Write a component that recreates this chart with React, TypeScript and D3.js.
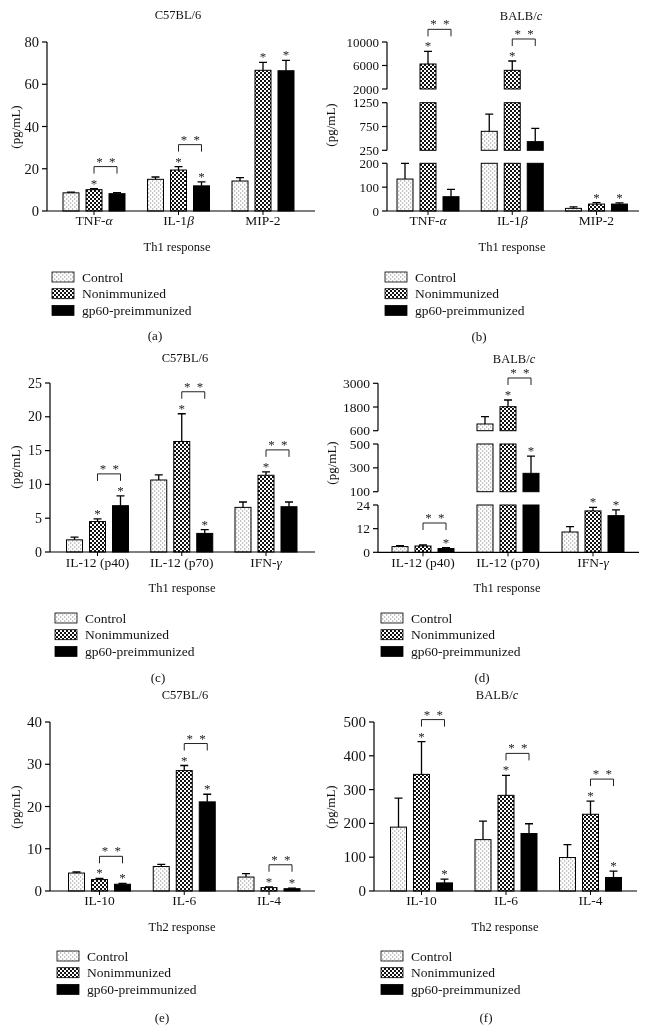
import React from "react";
import * as d3 from "d3";

const SERIES = ["Control", "Nonimmunized", "gp60-preimmunized"];

// Panel (a) C57BL/6 Th1
const A_CATS = ["TNF-α", "IL-1β", "MIP-2"];
const A_MEAN = [[8.6, 15.0, 14.2], [10.1, 19.4, 66.6], [8.2, 11.9, 66.4]];
const A_ERR = [[0.3, 1.1, 1.6], [0.5, 1.6, 3.8], [0.5, 1.9, 4.9]];
const A_STAR = [[0, 0, 0], [1, 1, 1], [0, 1, 1]];
const A_BRACKET = [1, 1, 0];
const A_TICKS = [[0, 20, 40, 60, 80]];

// Panel (b) BALB/c Th1
const B_CATS = ["TNF-α", "IL-1β", "MIP-2"];
const B_MEAN = [[134, 649, 11], [6255, 5177, 29], [60, 432, 29]];
const B_ERR = [[66, 363, 6], [2156, 1589, 6], [31, 279, 5]];
const B_STAR = [[0, 0, 0], [1, 1, 1], [0, 0, 1]];
const B_BRACKET = [1, 1, 0];
const B_TICKS = [[0, 100, 200], [250, 750, 1250], [2000, 6000, 10000]];

// Panel (c) C57BL/6 Th1
const C_CATS = ["IL-12 (p40)", "IL-12 (p70)", "IFN-γ"];
const C_MEAN = [[1.8, 10.65, 6.6], [4.5, 16.35, 11.35], [6.85, 2.75, 6.7]];
const C_ERR = [[0.4, 0.75, 0.8], [0.4, 4.1, 0.5], [1.45, 0.55, 0.7]];
const C_STAR = [[0, 0, 0], [1, 1, 1], [1, 1, 0]];
const C_BRACKET = [1, 1, 1];
const C_TICKS = [[0, 5, 10, 15, 20, 25]];

// Panel (d) BALB/c Th1
const D_CATS = ["IL-12 (p40)", "IL-12 (p70)", "IFN-γ"];
const D_MEAN = [[2.9, 940, 10.3], [3.2, 1817, 21], [1.9, 254, 18.6]];
const D_ERR = [[0.5, 370, 2.7], [0.5, 338, 1.8], [0.5, 145, 2.9]];
const D_STAR = [[0, 0, 0], [0, 1, 1], [1, 1, 1]];
const D_BRACKET = [1, 1, 0];
const D_TICKS = [[0, 12, 24], [100, 300, 500], [600, 1800, 3000]];

// Panel (e) C57BL/6 Th2
const E_CATS = ["IL-10", "IL-6", "IL-4"];
const E_MEAN = [[4.25, 5.8, 3.3], [2.7, 28.5, 0.8], [1.6, 21.1, 0.55]];
const E_ERR = [[0.25, 0.5, 0.8], [0.3, 1.2, 0.2], [0.2, 1.8, 0.15]];
const E_STAR = [[0, 0, 0], [1, 1, 1], [1, 1, 1]];
const E_BRACKET = [1, 1, 1];
const E_TICKS = [[0, 10, 20, 30, 40]];

// Panel (f) BALB/c Th2
const F_CATS = ["IL-10", "IL-6", "IL-4"];
const F_MEAN = [[189, 152, 99], [345, 283, 227], [24, 170, 40]];
const F_ERR = [[86, 55, 38], [97, 59, 39], [11, 29, 19]];
const F_STAR = [[0, 0, 0], [1, 1, 1], [1, 0, 1]];
const F_BRACKET = [1, 1, 1];
const F_TICKS = [[0, 100, 200, 300, 400, 500]];

const FONT = "'Liberation Serif', 'Times New Roman', serif";

const PANELS = [
  {
    id: "a", title: "C57BL/6", resp: "Th1 response", cats: A_CATS, mean: A_MEAN, err: A_ERR, star: A_STAR, bracket: A_BRACKET, ticks: A_TICKS,
    L: { axisX: 47, xEnd: 315, c0: 94, c2: 263, px: [[211, 42]], tickFs: 14.5, titleX: 178, titleY: 15, catY: 220, ylabX: 15, ylabY: 127, respX: 177, respY: 247, legX: 52, legY: 277, letterX: 155, letterY: 335 },
  },
  {
    id: "b", title: "BALB/c", resp: "Th1 response", cats: B_CATS, mean: B_MEAN, err: B_ERR, star: B_STAR, bracket: B_BRACKET, ticks: B_TICKS,
    L: { axisX: 387, xEnd: 639, c0: 428, c2: 596.5, px: [[211, 163.3], [150.3, 102.7], [89, 42]], tickFs: 13, titleX: 521, titleY: 16, catY: 220, ylabX: 330, ylabY: 125, respX: 512, respY: 247, legX: 385, legY: 277, letterX: 479, letterY: 336 },
  },
  {
    id: "c", title: "C57BL/6", resp: "Th1 response", cats: C_CATS, mean: C_MEAN, err: C_ERR, star: C_STAR, bracket: C_BRACKET, ticks: C_TICKS,
    L: { axisX: 50, xEnd: 315, c0: 97.5, c2: 266, px: [[552, 383]], tickFs: 14, titleX: 185, titleY: 358, catY: 562, ylabX: 15, ylabY: 467, respX: 182, respY: 588, legX: 55, legY: 618, letterX: 158, letterY: 677 },
  },
  {
    id: "d", title: "BALB/c", resp: "Th1 response", cats: D_CATS, mean: D_MEAN, err: D_ERR, star: D_STAR, bracket: D_BRACKET, ticks: D_TICKS,
    L: { axisX: 378, xEnd: 639, c0: 423, c2: 593, px: [[552.3, 505], [491.7, 444], [430.7, 383.3]], tickFs: 13.5, titleX: 514, titleY: 359, catY: 562, ylabX: 331, ylabY: 463, respX: 507, respY: 588, legX: 381, legY: 618, letterX: 482, letterY: 677 },
  },
  {
    id: "e", title: "C57BL/6", resp: "Th2 response", cats: E_CATS, mean: E_MEAN, err: E_ERR, star: E_STAR, bracket: E_BRACKET, ticks: E_TICKS,
    L: { axisX: 50, xEnd: 315, c0: 99.5, c2: 269, px: [[891, 722]], tickFs: 15, titleX: 185, titleY: 695, catY: 900, ylabX: 15, ylabY: 807, respX: 182, respY: 927, legX: 57, legY: 956, letterX: 162, letterY: 1017 },
  },
  {
    id: "f", title: "BALB/c", resp: "Th2 response", cats: F_CATS, mean: F_MEAN, err: F_ERR, star: F_STAR, bracket: F_BRACKET, ticks: F_TICKS,
    L: { axisX: 374, xEnd: 637, c0: 421.5, c2: 590.5, px: [[891, 722]], tickFs: 15, titleX: 497, titleY: 695, catY: 900, ylabX: 330, ylabY: 807, respX: 505, respY: 927, legX: 381, legY: 956, letterX: 486, letterY: 1017 },
  },
];

const FILLS = ["url(#pCtrl)", "url(#pNon)", "#000"];

function GreekLabel({ text, x, y, fs }: any) {
  const parts = text.split(/([α-ω])/).filter((p: string) => p.length);
  return (
    <text x={x} y={y} textAnchor="middle" dominantBaseline="central" fontSize={fs} fontFamily={FONT} fill="#111">
      {parts.map((p: string, i: number) =>
        /[α-ω]/.test(p) ? <tspan key={i} fontStyle="italic">{p}</tspan> : <tspan key={i}>{p}</tspan>
      )}
    </text>
  );
}

function Panel({ P }: any) {
  const L = P.L;
  const segs = P.ticks.map((t: number[], i: number) => {
    const dom = d3.extent(t) as [number, number];
    return { dom, px: L.px[i], ticks: t, scale: d3.scaleLinear().domain(dom).range(L.px[i]) };
  });
  const segOf = (v: number) => segs.find((s: any) => v <= s.dom[1]) || segs[segs.length - 1];
  const y = (v: number, ref: number) => segOf(ref).scale(v);
  const xc = d3.scalePoint<string>().domain(P.cats).range([L.c0, L.c2]);
  const off = d3.scalePoint<string>().domain(SERIES).range([-23, 23]);
  const bw = 16;
  const y0 = segs[0].px[0];

  const els: any[] = [];
  P.cats.forEach((c: string, ci: number) => {
    const tops: number[] = [];
    SERIES.forEach((s, si) => {
      const v = P.mean[si][ci];
      const e = P.err[si][ci];
      const cx = (xc(c) as number) + (off(s) as number);
      segs.forEach((sg: any, gi: number) => {
        if (v > sg.dom[0]) {
          const yt = sg.scale(Math.min(v, sg.dom[1]));
          els.push(
            <rect key={`r${ci}${si}${gi}`} x={cx - bw / 2} y={yt} width={bw} height={sg.px[0] - yt} fill={FILLS[si]} stroke="#000" strokeWidth={1} />
          );
        }
      });
      const yv = y(v, v);
      const ye = y(v + e, v);
      tops.push(ye);
      els.push(
        <path key={`e${ci}${si}`} d={`M${cx},${yv}V${ye}M${cx - 4},${ye}H${cx + 4}`} stroke="#000" strokeWidth={1.3} fill="none" />
      );
      if (P.star[si][ci]) {
        els.push(
          <text key={`s${ci}${si}`} x={cx} y={ye - 1} textAnchor="middle" fontSize={13} fontFamily={FONT} fill="#222">*</text>
        );
      }
    });
    if (P.bracket[ci]) {
      const x1 = (xc(c) as number) + (off(SERIES[1]) as number);
      const x2 = (xc(c) as number) + (off(SERIES[2]) as number);
      const by = Math.min(tops[1], tops[2]) - 22;
      els.push(
        <path key={`b${ci}`} d={`M${x1},${by + 7}V${by}H${x2}V${by + 7}`} stroke="#222" strokeWidth={1} fill="none" />
      );
      els.push(
        <text key={`bs${ci}`} x={(x1 + x2) / 2 + 1} y={by - 1} textAnchor="middle" fontSize={13} letterSpacing={1.5} fontFamily={FONT} fill="#222">* *</text>
      );
    }
  });

  return (
    <g>
      {els}
      {segs.map((sg: any, gi: number) => (
        <g key={`ax${gi}`}>
          <line x1={L.axisX} x2={L.axisX} y1={sg.px[0]} y2={sg.px[1]} stroke="#000" strokeWidth={1.2} />
          {sg.ticks.map((t: number) => (
            <g key={t}>
              <line x1={L.axisX - 5} x2={L.axisX} y1={sg.scale(t)} y2={sg.scale(t)} stroke="#000" strokeWidth={1.2} />
              <text x={L.axisX - 8} y={sg.scale(t)} textAnchor="end" dominantBaseline="central" fontSize={L.tickFs} fontFamily={FONT} fill="#111">{t}</text>
            </g>
          ))}
        </g>
      ))}
      <line x1={L.axisX} x2={L.xEnd} y1={y0} y2={y0} stroke="#000" strokeWidth={1.2} />
      {P.cats.map((c: string) => (
        <g key={c}>
          <line x1={xc(c)} x2={xc(c)} y1={y0} y2={y0 + 4} stroke="#000" strokeWidth={1} />
          <GreekLabel text={c} x={xc(c)} y={L.catY} fs={13.5} />
        </g>
      ))}
      <text x={L.titleX} y={L.titleY} textAnchor="middle" dominantBaseline="central" fontSize={12.5} fontFamily={FONT} fill="#111">
        {P.title === "BALB/c" ? <>BALB/<tspan fontStyle="italic">c</tspan></> : P.title}
      </text>
      <text transform={`translate(${L.ylabX},${L.ylabY}) rotate(-90)`} textAnchor="middle" dominantBaseline="central" fontSize={13} fontFamily={FONT} fill="#111">(pg/mL)</text>
      <text x={L.respX} y={L.respY} textAnchor="middle" dominantBaseline="central" fontSize={12.5} fontFamily={FONT} fill="#111">{P.resp}</text>
      {SERIES.map((s, si) => (
        <g key={s}>
          <rect x={L.legX} y={L.legY + si * 16.7 - 5} width={22} height={10} fill={FILLS[si]} stroke="#000" strokeWidth={0.8} />
          <text x={L.legX + 30} y={L.legY + si * 16.7} dominantBaseline="central" fontSize={13.5} fontFamily={FONT} fill="#111">{s}</text>
        </g>
      ))}
      <text x={L.letterX} y={L.letterY} textAnchor="middle" dominantBaseline="central" fontSize={13} fontFamily={FONT} fill="#111">({P.id})</text>
    </g>
  );
}

export default function App() {
  return (
    <svg width={648} height={1029} style={{ position: "absolute", left: 0, top: 0, background: "#fff", willChange: "transform" }}>
      <defs>
        <pattern id="pCtrl" width={4} height={4} patternUnits="userSpaceOnUse">
          <rect width={4} height={4} fill="#fff" />
          <rect x={0} y={0.5} width={1.3} height={1} fill="#8c8c8c" />
          <rect x={2} y={2.5} width={1.3} height={1} fill="#8c8c8c" />
        </pattern>
        <pattern id="pNon" width={4} height={4} patternUnits="userSpaceOnUse">
          <rect width={4} height={4} fill="#fff" />
          <rect x={0} y={0} width={2} height={2} fill="#111" />
          <rect x={2} y={2} width={2} height={2} fill="#111" />
        </pattern>
      </defs>
      <rect width={648} height={1029} fill="#fff" />
      {PANELS.map((P) => (
        <Panel key={P.id} P={P} />
      ))}
    </svg>
  );
}
